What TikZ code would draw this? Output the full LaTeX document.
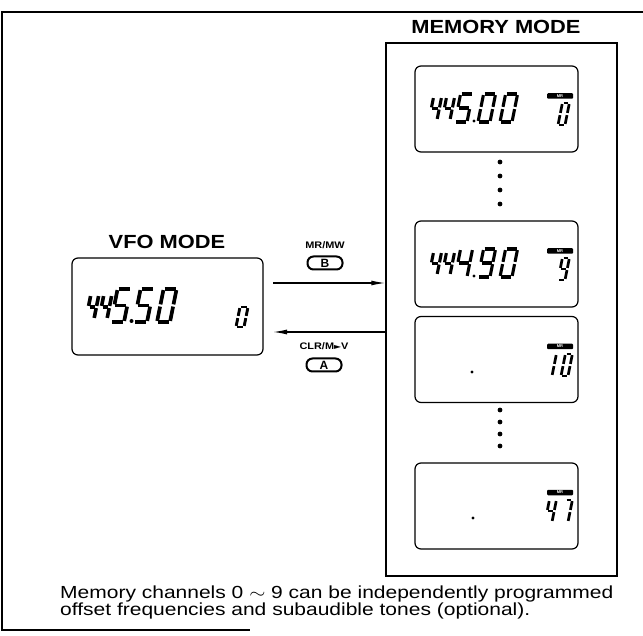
\documentclass[tikz,border=0pt]{standalone}
\usepackage{fontspec}
\setmainfont{Liberation Sans}
\newfontfamily\symfont{DejaVu Sans}
\usetikzlibrary{arrows.meta}

\newcommand\sgap{1.1}
\newcommand\sgA{\draw[sg] (\sgap,-\dH)--(\dW-\sgap,-\dH);}
\newcommand\sgB{\draw[sg] (\dW,-\dH+\sgap)--(\dW,-\dH/2-\sgap);}
\newcommand\sgC{\draw[sg] (\dW,-\dH/2+\sgap)--(\dW,-\sgap);}
\newcommand\sgD{\draw[sg] (\sgap,0)--(\dW-\sgap,0);}
\newcommand\sgE{\draw[sg] (0,-\dH/2+\sgap)--(0,-\sgap);}
\newcommand\sgF{\draw[sg] (0,-\dH+\sgap)--(0,-\dH/2-\sgap);}
\newcommand\sgG{\draw[sg] (\sgap,-\dH/2)--(\dW-\sgap,-\dH/2);}
% #1 x, #2 y bottom, #3 W, #4 H, #5 line width, #6 digit
\newcommand\lcd[6]{%
  \begin{scope}[shift={(#1,#2)},xslant=0.2,sg/.style={line width=#5pt,line cap=butt}]
    \def\dW{#3}\def\dH{#4}%
    \ifcase#6 \sgA\sgB\sgC\sgD\sgE\sgF
    \or \sgB\sgC
    \or \sgA\sgB\sgD\sgE\sgG
    \or \sgA\sgB\sgC\sgD\sgG
    \or \sgB\sgC\sgF\sgG
    \or \sgA\sgC\sgD\sgF\sgG
    \or \sgA\sgC\sgD\sgE\sgF\sgG
    \or \sgA\sgB\sgC
    \or \sgA\sgB\sgC\sgD\sgE\sgF\sgG
    \or \sgA\sgB\sgC\sgD\sgF\sgG
    \fi
  \end{scope}}
% main memory digits: #1 top of display, #2..#6 digits
\newcommand\memmain[6]{%
  \lcd{429}{#1+54}{8}{23}{3.1}{#2}
  \lcd{442}{#1+54}{8}{23}{3.1}{#3}
  \lcd{455}{#1+56}{12}{28}{3.1}{#4}
  \fill (474,#1+55) circle (1.7);
  \lcd{478}{#1+56}{12}{28}{3.1}{#5}
  \lcd{500}{#1+56}{12}{28}{3.1}{#6}}

\tikzset{
  frame/.style={line width=1.1pt},
  membox/.style={draw,line width=1.5pt,minimum width=231pt,minimum height=533pt,inner sep=0pt},
  lcdbox/.style={draw,line width=1.2pt,rounded corners=6pt,minimum width=163pt,minimum height=86pt,inner sep=0pt},
  vfobox/.style={draw,line width=1.2pt,rounded corners=6pt,minimum width=191pt,minimum height=97pt,inner sep=0pt},
  title/.style={font=\bfseries\fontsize{19}{19}\selectfont,inner sep=0pt},
  keylabel/.style={font=\bfseries\fontsize{9.5}{10}\selectfont,inner sep=0pt},
  keybtn/.style={draw,line width=2pt,rounded corners=6pt,minimum width=35pt,minimum height=13pt,inner sep=0pt,font=\bfseries\fontsize{12}{12}\selectfont},
  tag/.style={fill=black,rounded corners=1pt,minimum width=26pt,minimum height=5.5pt,inner sep=0pt,text=white,font=\bfseries\fontsize{4}{4}\selectfont},
  arr/.style={line width=1.2pt,-{Latex[length=14pt,width=5pt]}},
  capt/.style={anchor=base west,inner sep=0pt,font=\fontsize{17.5}{18}\selectfont},
  dotmark/.style={fill=black}
}

\begin{document}
\begin{tikzpicture}[x=1pt,y=-1pt]
\useasboundingbox (0,0) rectangle (643,636);
% outer frame
\draw[frame] (643,12) -- (2,12) -- (2,630) -- (250,630);

% titles
\node[title] (memtitle) at (496,27) {\scalebox{1.15}[1]{MEMORY MODE}};
\node[title] (vfotitle) at (167,241.5) {\scalebox{1.15}[1]{VFO MODE}};

% memory column
\node[membox] (mem) at (501.5,309.5) {};
\node[lcdbox] (d1) at (496.5,109) {};
\node[lcdbox] (d2) at (496.5,264) {};
\node[lcdbox] (d3) at (496.5,359.5) {};
\node[lcdbox] (d4) at (496.5,506) {};

% display 1: 445.00  ch 0
\memmain{66}{4}{4}{5}{0}{0}
\node[tag] (t1) at (560,96) {MR};
\lcd{558}{125}{7}{22}{2.7}{0}
% display 2: 444.90 ch 9
\memmain{221}{4}{4}{4}{9}{0}
\node[tag] (t2) at (560,251) {MR};
\lcd{558}{280}{7}{22}{2.7}{9}
% display 3: . ch 10
\fill (472,372) circle (1.6);
\node[tag] (t3) at (560,346.5) {MR};
\lcd{545}{376}{7}{22}{2.7}{1}
\lcd{561}{376}{7}{22}{2.7}{0}
% display 4: . ch 47
\fill (473,518) circle (1.6);
\node[tag] (t4) at (560,492.5) {MR};
\lcd{545}{522}{7}{22}{2.7}{4}
\lcd{561}{522}{7}{22}{2.7}{7}

% ellipsis dots
\foreach \yy in {162,176,190,204} {\fill[dotmark] (500,\yy) circle (2.4);}
\foreach \yy in {410,422,434,446} {\fill[dotmark] (500,\yy) circle (2.4);}

% VFO display
\node[vfobox] (vfo) at (167.5,306.5) {};
\lcd{86}{319}{8}{24}{3.6}{4}
\lcd{99}{319}{8}{24}{3.6}{4}
\lcd{111}{322}{13}{33}{3.7}{5}
\fill (131.5,321) circle (2);
\lcd{134}{322}{13}{33}{3.7}{5}
\lcd{157}{322}{13}{33}{3.7}{0}
\lcd{236}{327}{8}{20}{2.9}{0}

% keys and arrows
\node[keylabel] (mrmw) at (325,245.5) {\scalebox{1.15}[1]{MR/MW}};
\node[keybtn] (keyb) at (325,263) {B};
\node[keylabel] (clr) at (324,346.5) {\scalebox{1.15}[1]{CLR/M{\symfont\fontsize{8}{8}\selectfont ►}V}};
\node[keybtn] (keya) at (324,365) {A};

\coordinate (a1s) at (273,283);
\coordinate (a2e) at (273,332);
\draw[arr] (a1s) -- (a1s -| mem.west);
\draw[arr] (a2e -| mem.west) -- (a2e);

% caption
\node[capt] (cap1) at (60,598) {\scalebox{1.2}[1]{Memory channels 0 $\sim$ 9 can be independently programmed}};
\node[capt] (cap2) at (60,615) {\scalebox{1.2}[1]{offset frequencies and subaudible tones (optional).}};
\end{tikzpicture}
\end{document}
